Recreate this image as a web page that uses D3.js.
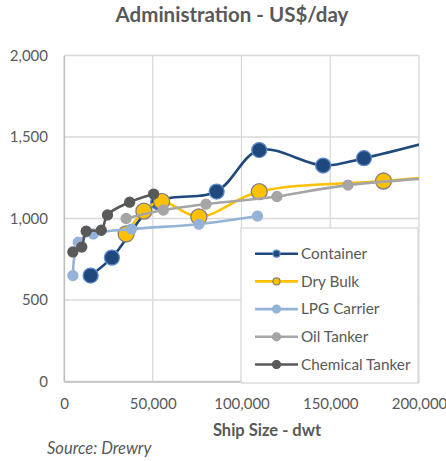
<!DOCTYPE html>
<html>
<head>
<meta charset="utf-8">
<script src="https://cdn.jsdelivr.net/npm/d3@7"></script>
<style>
  body { margin: 0; background: #fff; }
  svg text { font-family: Lato, "Open Sans", sans-serif; }
</style>
</head>
<body>
<svg id="chart"></svg>
<script>
// data (dwt, US$/day)
const seriesNames = ['Container', 'Dry Bulk', 'LPG Carrier', 'Oil Tanker', 'Chemical Tanker'];

const containerData = [
  { dwt: 15000, cost: 650 }, { dwt: 27000, cost: 760 }, { dwt: 53000, cost: 1100 },
  { dwt: 86000, cost: 1165 }, { dwt: 110000, cost: 1420 }, { dwt: 146000, cost: 1325 },
  { dwt: 169000, cost: 1370 }, { dwt: 220000, cost: 1510 }
];
const dryBulkData = [
  { dwt: 35000, cost: 905 }, { dwt: 45000, cost: 1045 }, { dwt: 55000, cost: 1105 },
  { dwt: 76000, cost: 1010 }, { dwt: 110000, cost: 1165 }, { dwt: 180000, cost: 1230 },
  { dwt: 260000, cost: 1300 }
];
const lpgData = [
  { dwt: 5000, cost: 650 }, { dwt: 8000, cost: 855 }, { dwt: 16500, cost: 905 },
  { dwt: 38000, cost: 935 }, { dwt: 76000, cost: 965 }, { dwt: 109000, cost: 1015 }
];
const oilData = [
  { dwt: 35000, cost: 1000 }, { dwt: 56000, cost: 1052 }, { dwt: 80000, cost: 1088 },
  { dwt: 120000, cost: 1135 }, { dwt: 160000, cost: 1205 }, { dwt: 300000, cost: 1310 }
];
const chemicalData = [
  { dwt: 5000, cost: 795 }, { dwt: 10000, cost: 825 }, { dwt: 12500, cost: 922 },
  { dwt: 21000, cost: 928 }, { dwt: 24500, cost: 1022 }, { dwt: 37000, cost: 1100 },
  { dwt: 50500, cost: 1150 }
];

const xTicks = [0, 50000, 100000, 150000, 200000];
const yTicks = [0, 500, 1000, 1500, 2000];

const styles = [
  { line: '#1F497D', fill: '#1F497D', stroke: '#5B8BC9', r: 7.5, legR: 3.5 },
  { line: '#FFC000', fill: '#FFC000', stroke: '#808080', r: 8, legR: 3.5 },
  { line: '#95B3D7', fill: '#95B3D7', stroke: '#95B3D7', r: 5, legR: 4 },
  { line: '#A5A5A5', fill: '#A5A5A5', stroke: '#A5A5A5', r: 5, legR: 4 },
  { line: '#595959', fill: '#595959', stroke: '#595959', r: 5, legR: 4 }
];
const allData = [containerData, dryBulkData, lpgData, oilData, chemicalData];

const W = 446, H = 461;
const margin = { top: 55.5, left: 64, right: 27, bottom: 79.5 };
const width = W - margin.left - margin.right;
const height = H - margin.top - margin.bottom;

const svg = d3.select('#chart').attr('width', W).attr('height', H);

svg.append('text')
  .attr('x', 232).attr('y', 22)
  .attr('text-anchor', 'middle')
  .attr('font-size', 20.5).attr('font-weight', 'bold')
  .attr('fill', '#595959')
  .text('Administration - US$/day');

const chart = svg.append('g')
  .attr('transform', `translate(${margin.left},${margin.top})`);

const xScale = d3.scaleLinear().domain([0, 200000]).range([0, width]);
const yScale = d3.scaleLinear().domain([0, 2000]).range([height, 0]);

// gridlines
chart.append('g')
  .selectAll('line')
  .data(yTicks)
  .join('line')
  .attr('x1', 0).attr('x2', width)
  .attr('y1', d => yScale(d)).attr('y2', d => yScale(d))
  .attr('stroke', '#D9D9D9').attr('stroke-width', 1.3);

chart.append('g')
  .selectAll('line')
  .data(xTicks)
  .join('line')
  .attr('x1', d => xScale(d)).attr('x2', d => xScale(d))
  .attr('y1', 0).attr('y2', height)
  .attr('stroke', '#D9D9D9').attr('stroke-width', 1.3);

// axes
const xAxis = d3.axisBottom(xScale).tickValues(xTicks).tickSize(0).tickPadding(15)
  .tickFormat(d3.format(','));
const yAxis = d3.axisLeft(yScale).tickValues(yTicks).tickSize(0).tickPadding(16)
  .tickFormat(d3.format(','));

const xAxisG = chart.append('g')
  .attr('transform', `translate(0,${height})`)
  .call(xAxis);
const yAxisG = chart.append('g').call(yAxis);

[xAxisG, yAxisG].forEach(g => {
  g.select('.domain').attr('stroke', '#BFBFBF').attr('stroke-width', 1.3);
  g.selectAll('text').attr('font-size', 15).attr('fill', '#595959')
    .attr('font-family', 'Lato, sans-serif');
});
xAxisG.selectAll('text').attr('dy', '0.85em');

svg.append('text')
  .attr('x', 267).attr('y', 436)
  .attr('text-anchor', 'middle')
  .attr('font-size', 16.5).attr('font-weight', 'bold')
  .attr('fill', '#595959')
  .text('Ship Size - dwt');

svg.append('text')
  .attr('x', 47).attr('y', 454)
  .attr('font-size', 16.5).attr('font-style', 'italic')
  .attr('fill', '#595959')
  .text('Source: Drewry');

// series
svg.append('defs').append('clipPath').attr('id', 'plotClip')
  .append('rect').attr('x', 0).attr('y', -10).attr('width', width).attr('height', height + 20);

const plot = chart.append('g').attr('clip-path', 'url(#plotClip)');

const line = d3.line()
  .x(d => xScale(d.dwt))
  .y(d => yScale(d.cost))
  .curve(d3.curveCatmullRom.alpha(0.5));

allData.forEach((data, i) => {
  const s = styles[i];
  const g = plot.append('g');
  g.append('path')
    .datum(data)
    .attr('d', line)
    .attr('fill', 'none')
    .attr('stroke', s.line)
    .attr('stroke-width', 2.6);
  g.selectAll('circle')
    .data(data)
    .join('circle')
    .attr('cx', d => xScale(d.dwt))
    .attr('cy', d => yScale(d.cost))
    .attr('r', s.r)
    .attr('fill', s.fill)
    .attr('stroke', s.stroke)
    .attr('stroke-width', 1.3);
});

// legend
const legend = svg.append('g').attr('transform', 'translate(241,228)');
legend.append('rect')
  .attr('width', 177).attr('height', 155)
  .attr('fill', '#fff').attr('stroke', '#D9D9D9').attr('stroke-width', 1.3);

const legendItems = legend.selectAll('g.item')
  .data(seriesNames)
  .join('g')
  .attr('class', 'item')
  .attr('transform', (d, i) => `translate(0,${25.7 + i * 27.7})`);

legendItems.append('line')
  .attr('x1', 14).attr('x2', 57)
  .attr('stroke', (d, i) => styles[i].line)
  .attr('stroke-width', 2.6);
legendItems.append('circle')
  .attr('cx', 35.5).attr('r', (d, i) => styles[i].legR)
  .attr('fill', (d, i) => styles[i].fill)
  .attr('stroke', (d, i) => styles[i].stroke)
  .attr('stroke-width', 1.2);
legendItems.append('text')
  .attr('x', 60).attr('dy', '0.35em')
  .attr('font-size', 15.3).attr('fill', '#595959')
  .text(d => d);
</script>
</body>
</html>
